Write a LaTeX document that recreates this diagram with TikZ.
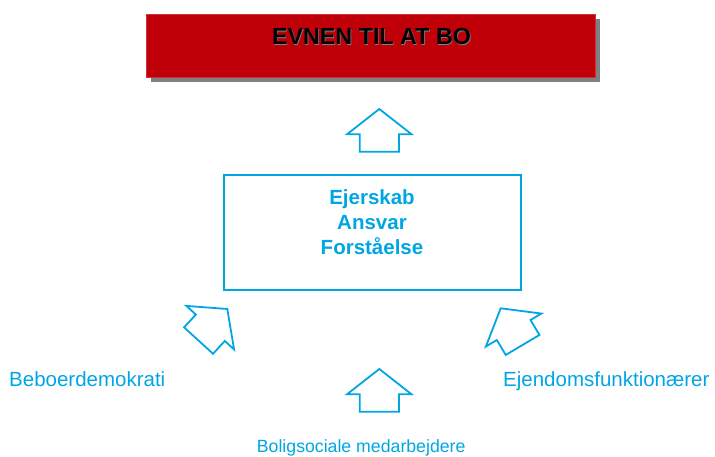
\documentclass[tikz,border=0pt]{standalone}
\usepackage{fontspec}
\setmainfont{Liberation Sans}
\definecolor{cblue}{RGB}{0,166,228}
\definecolor{cred}{RGB}{192,0,8}
\definecolor{cshadow}{RGB}{128,128,128}
\begin{document}
\begin{tikzpicture}[x=1pt,y=-1pt,
  uparrow/.style={draw=cblue,line width=1.8pt,line join=miter,fill=white},
  lbl/.style={text=cblue,font=\fontsize{20.5}{24}\selectfont,inner sep=0pt},
  boxtext/.style={text=cblue,font=\fontsize{20.5}{25}\selectfont\bfseries,align=center,inner sep=0pt}]
\useasboundingbox (0,0) rectangle (715,457);
% title box with shadow
\fill[cshadow] (151,19) rectangle (599.5,82);
\node[fill=cred,draw=cred!80!white,line width=0.5pt,minimum width=449pt,minimum height=63pt,anchor=north west,inner sep=0pt] (title) at (146,14) {};
\node[font=\fontsize{23.3}{26}\selectfont\bfseries,text=cshadow,anchor=base,inner sep=0pt] at (372.2,45.7) {EVNEN TIL AT BO};
\node[font=\fontsize{23.3}{26}\selectfont\bfseries,text=black,anchor=base,inner sep=0pt] (titletext) at (371.5,45) {EVNEN TIL AT BO};
% central box
\node[draw=cblue,line width=2pt,minimum width=297pt,minimum height=115pt,anchor=north west,inner sep=0pt] (core) at (223,174) {};
\node[boxtext] (coretext) at (372,222) {Ejerskab\\Ansvar\\Forståelse};
% arrows: shape pointing up, apex at origin
\def\arrowshape{(0,0) -- (32.3,25.3) -- (19.7,25.3) -- (19.7,42.7) -- (-19.5,42.7) -- (-19.5,25.3) -- (-32.3,25.3) -- cycle}
\begin{scope}[shift={(379.3,109)}]
  \draw[uparrow] \arrowshape;
\end{scope}
\begin{scope}[shift={(379.3,369)}]
  \draw[uparrow] \arrowshape;
\end{scope}
\begin{scope}[shift={(227.3,309)},rotate=-42.4]
  \draw[uparrow] \arrowshape;
\end{scope}
\begin{scope}[shift={(500.7,308.3)},rotate=30.7]
  \draw[uparrow] \arrowshape;
\end{scope}
% labels
\node[lbl,anchor=base west] (beboer) at (9,386) {Beboerdemokrati};
\node[lbl,anchor=base west] (ejendom) at (503,386) {Ejendomsfunktionærer};
\node[lbl,font=\fontsize{17.7}{21}\selectfont,anchor=base] (bolig) at (361.2,452) {Boligsociale medarbejdere};
\end{tikzpicture}
\end{document}
